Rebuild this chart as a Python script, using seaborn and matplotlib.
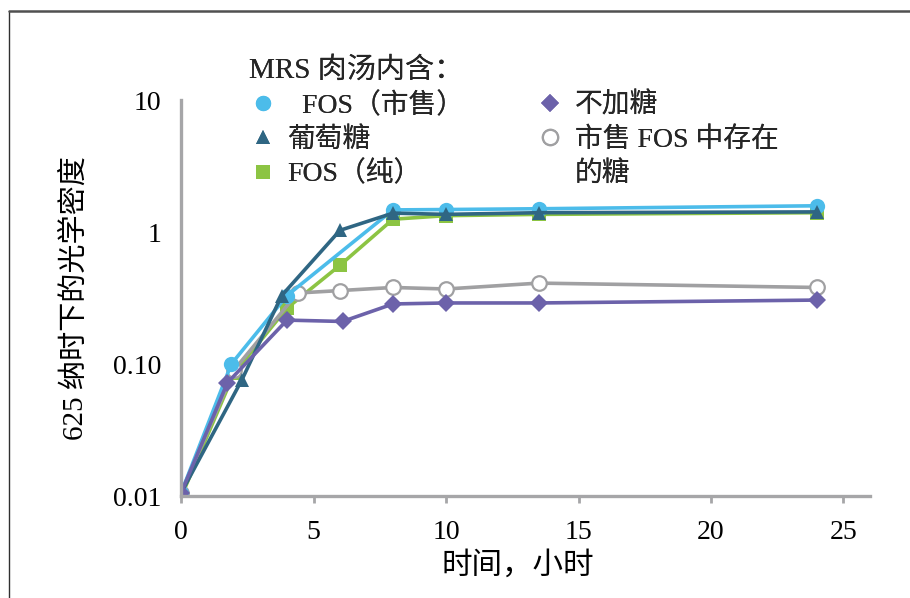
import matplotlib
matplotlib.use("Agg")
import matplotlib.pyplot as plt
import seaborn as sns
from matplotlib.lines import Line2D
from matplotlib.ticker import FixedLocator, NullLocator

sns.set_theme(style="white")
plt.rcParams['font.family'] = ['Liberation Serif', 'Noto Sans CJK SC', 'DejaVu Sans']

# Optical density at 625 nm over time (hours)
fos_market_t = [0, 1.9, 4, 8, 10, 13.5, 24]
fos_market_od = [0.0105, 0.100, 0.33, 1.47, 1.48, 1.50, 1.58]

glucose_t = [0, 2.3, 3.8, 6, 8, 10, 13.5, 24]
glucose_od = [0.0105, 0.076, 0.33, 1.03, 1.39, 1.36, 1.40, 1.42]

fos_pure_t = [0, 2, 4, 6, 8, 10, 13.5, 24]
fos_pure_od = [0.0098, 0.085, 0.265, 0.56, 1.25, 1.33, 1.36, 1.40]

no_sugar_t = [0, 1.75, 4, 6.1, 8, 10, 13.5, 24]
no_sugar_od = [0.0105, 0.072, 0.215, 0.21, 0.285, 0.29, 0.29, 0.305]

residual_t = [0, 2, 4.4, 6, 8, 10, 13.5, 24]
residual_od = [0.0105, 0.09, 0.345, 0.36, 0.38, 0.37, 0.41, 0.38]

y_ticks = [0.01, 0.1, 1, 10]
y_tick_labels = ["0.01", "0.10", "1", "10"]
x_ticks = [0, 5, 10, 15, 20, 25]

legend_title = "MRS 肉汤内含："
labels = ["  FOS（市售）", "葡萄糖", "FOS（纯）", "不加糖", "市售 FOS 中存在", "的糖"]

c_blue = "#4CBCEA"
c_teal = "#2F6683"
c_green = "#8CC443"
c_purple = "#6C62AA"
c_grey = "#A0A0A2"

fig = plt.figure(figsize=(9.10, 5.98), dpi=100)
ax = fig.add_axes([181 / 910, 102 / 598, 689 / 910, 396 / 598])
ax.set_yscale("log")

lw = 2.6
sns.lineplot(x=fos_pure_t, y=fos_pure_od, ax=ax, color=c_green, linewidth=lw,
             marker="s", markersize=9.5, markeredgewidth=0, sort=False)
sns.lineplot(x=residual_t, y=residual_od, ax=ax, color=c_grey, linewidth=lw,
             marker="o", markersize=10.5, markerfacecolor="white",
             markeredgecolor=c_grey, markeredgewidth=1.6, sort=False)
sns.lineplot(x=fos_market_t, y=fos_market_od, ax=ax, color=c_blue, linewidth=lw,
             marker="o", markersize=11, markeredgewidth=0, sort=False)
sns.lineplot(x=glucose_t, y=glucose_od, ax=ax, color=c_teal, linewidth=lw,
             marker="^", markersize=10, markeredgewidth=0, sort=False)
sns.lineplot(x=no_sugar_t, y=no_sugar_od, ax=ax, color=c_purple, linewidth=lw,
             marker="D", markersize=9.5, markeredgewidth=0, sort=False)

ax.set_xlim(0, 26)
ax.set_ylim(0.01, 10)
ax.yaxis.set_major_locator(FixedLocator(y_ticks))
ax.yaxis.set_minor_locator(NullLocator())
ax.set_yticklabels(y_tick_labels)
ax.xaxis.set_major_locator(FixedLocator(x_ticks))
ax.set_xticklabels([str(v) for v in x_ticks])

for side in ["top", "right"]:
    ax.spines[side].set_visible(False)
for side in ["left", "bottom"]:
    ax.spines[side].set_color("#A6A6A8")
    ax.spines[side].set_linewidth(2.4)
ax.tick_params(axis="x", direction="out", length=5, width=2, color="#A6A6A8",
               labelsize=20, pad=12, bottom=True)
ax.tick_params(axis="y", length=0, labelsize=20, pad=14)
for t in ax.get_xticklabels() + ax.get_yticklabels():
    t.set_color("black")

ax.set_xlabel("时间，小时", fontsize=22, color="black")
ax.xaxis.set_label_coords(0.489, -0.14)
ax.set_ylabel("625 纳时下的光学密度", fontsize=21, color="black")
ax.yaxis.set_label_coords(-0.134, 0.5)

handles = [
    Line2D([], [], linestyle="none", marker="o", markersize=11, color=c_blue, markeredgewidth=0),
    Line2D([], [], linestyle="none", marker="^", markersize=10, color=c_teal, markeredgewidth=0),
    Line2D([], [], linestyle="none", marker="s", markersize=9.5, color=c_green, markeredgewidth=0),
    Line2D([], [], linestyle="none", marker="D", markersize=9, color=c_purple, markeredgewidth=0),
    Line2D([], [], linestyle="none", marker="o", markersize=11, markerfacecolor="white",
           markeredgecolor=c_grey, markeredgewidth=1.6),
    Line2D([], [], linestyle="none", marker=None),
]
leg = ax.legend(handles, labels, title=legend_title, ncol=2, loc="upper left",
                bbox_to_anchor=(232 / 910, 1 - 41 / 598), bbox_transform=fig.transFigure,
                frameon=False, fontsize=20, title_fontsize=21, alignment="left",
                handlelength=1.0, handletextpad=0.4, labelspacing=0.3,
                columnspacing=2.6, borderpad=0.1)
ax.add_artist(leg)

# outer frame
fig.add_artist(Line2D([9 / 910, 9 / 910], [1 - 11 / 598, 0], transform=fig.transFigure,
                      color="#303030", linewidth=1.0))
fig.add_artist(Line2D([9 / 910, 1], [1 - 11 / 598, 1 - 11 / 598], transform=fig.transFigure,
                      color="#505050", linewidth=1.8))

fig.savefig("out.png", dpi=100)
